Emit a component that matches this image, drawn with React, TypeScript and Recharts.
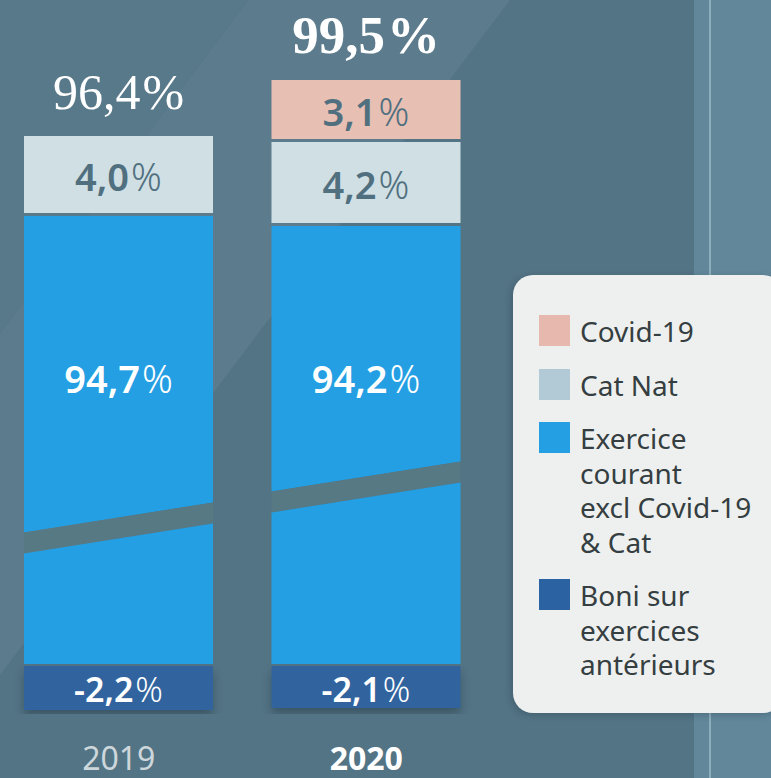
import React from 'react';
import { BarChart, Bar, XAxis, YAxis, Legend, LabelList } from 'recharts';

const YEARS = ['2019', '2020'];
const BONI = [-2.2, -2.1];
const EXERCICE = [94.7, 94.2];
const CAT_NAT = [4.0, 4.2];
const COVID: (number | null)[] = [null, 3.1];
const TOTALS = [96.4, 99.5];

const NAMES: Record<string, string> = {
  covid: 'Covid-19',
  catNat: 'Cat Nat',
  exercice: 'Exercice\ncourant\nexcl Covid-19\n& Cat',
  boni: 'Boni sur\nexercices\nantérieurs',
};

// part of the big segment hidden by the axis break
const AXIS_BREAK = 72.2;

const data = YEARS.map((year, i) => ({
  year,
  boni: BONI[i],
  exercice: EXERCICE[i] - AXIS_BREAK,
  exerciceReal: EXERCICE[i],
  catNat: CAT_NAT[i],
  covid: COVID[i],
  total: TOTALS[i],
}));

const BAR_COLORS = { covid: '#e8bfb3', catNat: '#d0dfe4', exercice: '#259fe3', boni: '#31649e' };
const SWATCH: Record<string, string> = { covid: '#e7b9ae', catNat: '#b2cad5', exercice: '#259fe3', boni: '#2a62a2' };
const LEGEND_ORDER = ['covid', 'catNat', 'exercice', 'boni'];
const SANS = "'Noto Sans', sans-serif";

// break drawing (px above the bar bottom at the left edge)
const BREAK_AT = [121, 162];
const BREAK_RISE = 30;
const BREAK_GAP = 21;

const pct = (v: number) => v.toFixed(1).replace('.', ',');
const norm = (y: number, h: number) => ({ top: Math.min(y, y + h), h: Math.abs(h) });

const Segment = (props: any) => {
  const { x, y, width, height, fill } = props;
  const { top, h } = norm(y, height);
  return <rect x={x} y={top} width={width} height={Math.max(h - 3, 0)} fill={fill} />;
};

const BoniShape = (props: any) => {
  const { x, y, width, height, fill } = props;
  const { top, h } = norm(y, height);
  return (
    <rect x={x} y={top} width={width} height={h} fill={fill}
      style={{ filter: 'drop-shadow(0px 6px 5px rgba(30,50,62,0.45))' }} />
  );
};

const ExerciceShape = (props: any) => {
  const { x, y, width, height, fill, index } = props;
  const { top, h } = norm(y, height);
  const bottom = top + h - 2;
  const cl = bottom - BREAK_AT[index];
  const cr = cl - BREAK_RISE;
  const g = BREAK_GAP / 2;
  const r = x + width;
  return (
    <g>
      <polygon points={`${x},${top} ${r},${top} ${r},${cr - g} ${x},${cl - g}`} fill={fill} />
      <polygon points={`${x},${cl - g} ${r},${cr - g} ${r},${cr + g} ${x},${cl + g}`} fill="#577983" />
      <polygon points={`${x},${cl + g} ${r},${cr + g} ${r},${bottom} ${x},${bottom}`} fill={fill} />
    </g>
  );
};

const Pct = ({ x, y, v, fill, size }: any) => (
  <text x={x} y={y} textAnchor="middle" fill={fill} fontFamily={SANS} fontSize={size}>
    <tspan fontWeight={600}>{pct(v)}</tspan>
    <tspan fontWeight={300} dx={2}>%</tspan>
  </text>
);

const lightLabel = (props: any) => {
  const { x, y, width, height, value } = props;
  if (value == null) return null;
  const { top, h } = norm(y, height);
  return <Pct x={x + width / 2} y={top + (h - 3) / 2 + 16} v={value} fill="#51707f" size={38} />;
};

const exerciceLabel = (props: any) => {
  const { x, y, width, height, value } = props;
  const { top, h } = norm(y, height);
  return <Pct x={x + width / 2} y={top + h - 273} v={value} fill="#ffffff" size={38} />;
};

const boniLabel = (props: any) => {
  const { x, y, width, height, value } = props;
  const { top } = norm(y, height);
  return <Pct x={x + width / 2} y={top + 36} v={value} fill="#ffffff" size={34} />;
};

const totalLabel = (onCovid: boolean) => (props: any) => {
  const { x, y, width, height, value, index } = props;
  if (value == null) return null;
  if ((COVID[index] != null) !== onCovid) return null;
  const { top } = norm(y, height);
  const last = index === YEARS.length - 1;
  return (
    <text x={x + width / 2} y={top - 27} textAnchor="middle" fill="#ffffff"
      fontFamily="'Liberation Serif', serif" fontSize={last ? 53 : 50} fontWeight={last ? 700 : 400}>
      {pct(value)}
      <tspan dx={2}>%</tspan>
    </text>
  );
};

const YearTick = (props: any) => {
  const { x, y, payload } = props;
  const last = payload.value === YEARS[YEARS.length - 1];
  return (
    <text x={x} y={y + 56} textAnchor="middle" fontFamily={SANS} fontSize={32}
      fontWeight={last ? 700 : 400} fill={last ? '#ffffff' : '#cdd7db'}>
      {payload.value}
    </text>
  );
};

const LegendBox = (props: any) => {
  const payload: any[] = props.payload || [];
  const items = LEGEND_ORDER.map((k) => payload.find((p) => p.dataKey === k || p.value === NAMES[k]) ? k : null)
    .filter(Boolean) as string[];
  return (
    <div style={{
      background: '#eef0ef', borderRadius: 20, padding: '39px 0 0 26px', boxSizing: 'border-box',
      width: 270, height: 438, boxShadow: '-2px 2px 6px rgba(20,40,50,0.25)',
    }}>
      {items.map((k) => (
        <div key={k} style={{ display: 'flex', alignItems: 'flex-start', marginBottom: 19 }}>
          <span style={{ width: 31, height: 31, background: SWATCH[k], marginTop: 1, flex: 'none' }} />
          <span style={{
            marginLeft: 10, whiteSpace: 'pre-line', fontFamily: SANS, fontSize: 28,
            lineHeight: '34.5px', color: '#353e41',
          }}>{NAMES[k]}</span>
        </div>
      ))}
    </div>
  );
};

export default function App() {
  return (
    <div style={{ position: 'absolute', left: 0, top: 0, width: 771, height: 778, overflow: 'hidden' }}>
      <svg width={771} height={778} style={{ position: 'absolute', left: 0, top: 0 }}>
        <rect width={771} height={778} fill="#537485" />
        <polygon points="0,0 248,0 0,334" fill="#587989" />
        <polygon points="248,0 510,0 0,675 0,334" fill="#5c7c8d" />
        <rect x={694} y={0} width={77} height={778} fill="#62879a" />
        <rect x={709} y={0} width={2} height={778} fill="#8eaebb" />
      </svg>
      <div style={{ position: 'absolute', left: -5, top: 0 }}>
        <BarChart width={776} height={778} data={data} stackOffset="sign" barSize={189}
          margin={{ top: 6, right: 281, bottom: 0, left: 0 }}>
          <XAxis dataKey="year" axisLine={false} tickLine={false} tickSize={0} tickMargin={0}
            height={64} tick={<YearTick />} interval={0} />
          <YAxis hide domain={[-2.4, 33]} allowDataOverflow />
          <Legend layout="horizontal" align="center" verticalAlign="middle" content={<LegendBox />}
            wrapperStyle={{ left: 518, top: 275, width: 270, height: 438 }} />
          <Bar dataKey="boni" name={NAMES.boni} stackId="a" fill={BAR_COLORS.boni}
            shape={<BoniShape />} isAnimationActive={false}>
            <LabelList dataKey="boni" content={boniLabel} />
          </Bar>
          <Bar dataKey="exercice" name={NAMES.exercice} stackId="a" fill={BAR_COLORS.exercice}
            shape={<ExerciceShape />} isAnimationActive={false}>
            <LabelList dataKey="exerciceReal" content={exerciceLabel} />
          </Bar>
          <Bar dataKey="catNat" name={NAMES.catNat} stackId="a" fill={BAR_COLORS.catNat}
            shape={<Segment />} isAnimationActive={false}>
            <LabelList dataKey="catNat" content={lightLabel} />
            <LabelList dataKey="total" content={totalLabel(false)} />
          </Bar>
          <Bar dataKey="covid" name={NAMES.covid} stackId="a" fill={BAR_COLORS.covid}
            shape={<Segment />} isAnimationActive={false}>
            <LabelList dataKey="covid" content={lightLabel} />
            <LabelList dataKey="total" content={totalLabel(true)} />
          </Bar>
        </BarChart>
      </div>
    </div>
  );
}
